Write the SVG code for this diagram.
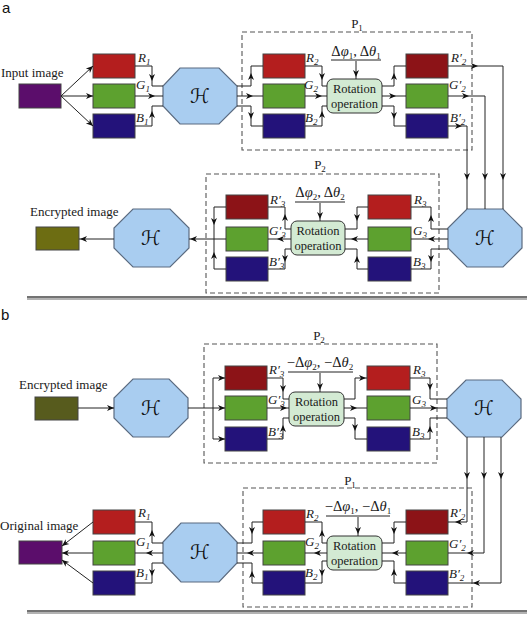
<svg xmlns="http://www.w3.org/2000/svg" xmlns:xlink="http://www.w3.org/1999/xlink" width="527" height="631" viewBox="0 0 527 631">
<style>
.lbl{font-family:"Liberation Serif",serif;font-size:13px;fill:#1a1a1a}
.it{font-style:italic}
.sub{font-size:9px}
.dl{font-family:"Liberation Serif",serif;font-size:14.5px;fill:#1a1a1a}
.rot{font-family:"Liberation Serif",serif;font-size:12.5px;fill:#1a1a1a}
.panel{font-family:"Liberation Sans",sans-serif;font-size:15px;fill:#111}
.h{font-family:"DejaVu Serif","DejaVu Sans",serif;font-style:italic;font-size:20px;fill:#111}
.oct{fill:#a9cdf0;stroke:#5b6b80;stroke-width:1.2}
.box{stroke:#444;stroke-width:1}
.r{fill:#b41e1e}.rd{fill:#8c1317}.g{fill:#5da12f}.b{fill:#23127a}.p{fill:#5b0d6b}.o1{fill:#6d6d12}.o2{fill:#575b1d}
.rb{fill:#d3ead3;stroke:#333;stroke-width:1}
.dash{fill:none;stroke:#555;stroke-width:1.1;stroke-dasharray:5,3}
.ln{fill:none;stroke:#222;stroke-width:1}
.sep1{stroke:#444;stroke-width:1.6}
.sep2{stroke:#999;stroke-width:1.4}
</style>
<defs>
<path id="ah" d="M0,0 L-7,-3 L-5,0 L-7,3 Z" fill="#111"/>
</defs>

<!-- ===== Panel a ===== -->
<text class="panel" x="2" y="13">a</text>

<g id="input-a">
<text class="lbl" x="1" y="77">Input image</text>
<rect class="box p" x="19" y="84" width="42" height="24"/>
</g>
<g id="R1-a"><rect class="box r" x="93" y="54" width="42" height="24"/><text class="lbl it" x="138" y="62">R<tspan class="sub" dy="3">1</tspan></text></g>
<g id="G1-a"><rect class="box g" x="93" y="84" width="42" height="24"/><text class="lbl it" x="136" y="89">G<tspan class="sub" dy="3">1</tspan></text></g>
<g id="B1-a"><rect class="box b" x="93" y="114" width="42" height="24"/><text class="lbl it" x="136" y="122">B<tspan class="sub" dy="3">1</tspan></text></g>
<g id="H1-a"><polygon class="oct" points="180,68 219,68 237,86 237,106 219,124 180,124 163,106 163,86"/><text class="h" x="200" y="103" text-anchor="middle">ℋ</text></g>

<g id="P1-a">
<rect class="dash" x="242" y="32" width="230" height="118"/>
<text class="lbl" x="357" y="28" text-anchor="middle">P<tspan class="sub" dy="3">1</tspan></text>
</g>
<g id="R2-a"><rect class="box r" x="263" y="54" width="42" height="24"/><text class="lbl it" x="306" y="62">R<tspan class="sub" dy="3">2</tspan></text></g>
<g id="G2-a"><rect class="box g" x="263" y="84" width="42" height="24"/><text class="lbl it" x="304" y="89">G<tspan class="sub" dy="3">2</tspan></text></g>
<g id="B2-a"><rect class="box b" x="263" y="114" width="42" height="24"/><text class="lbl it" x="305" y="122">B<tspan class="sub" dy="3">2</tspan></text></g>
<g id="rot1-a"><rect class="rb" x="327" y="79" width="55" height="34" rx="6"/><text class="rot" x="354.5" y="93" text-anchor="middle">Rotation</text><text class="rot" x="354.5" y="108" text-anchor="middle">operation</text></g>
<g id="param1-a"><text class="dl" x="356" y="56" text-anchor="middle">Δ<tspan class="it">φ</tspan><tspan class="sub" dy="3">1</tspan><tspan dy="-3">, Δ</tspan><tspan class="it">θ</tspan><tspan class="sub" dy="3">1</tspan></text><line class="ln" x1="331" y1="60" x2="381" y2="60"/></g>
<g id="R2p-a"><rect class="box rd" x="406" y="54" width="42" height="24"/><text class="lbl it" x="451" y="62">R′<tspan class="sub" dy="3">2</tspan></text></g>
<g id="G2p-a"><rect class="box g" x="406" y="84" width="42" height="24"/><text class="lbl it" x="449" y="89">G′<tspan class="sub" dy="3">2</tspan></text></g>
<g id="B2p-a"><rect class="box b" x="406" y="114" width="42" height="24"/><text class="lbl it" x="450" y="122">B′<tspan class="sub" dy="3">2</tspan></text></g>

<g id="H2-a"><polygon class="oct" points="467,209 503,209 522,228 522,248 503,267 467,267 448,248 448,228"/><text class="h" x="485" y="245" text-anchor="middle">ℋ</text></g>

<g id="P2-a">
<rect class="dash" x="206" y="174" width="233" height="119"/>
<text class="lbl" x="320" y="169" text-anchor="middle">P<tspan class="sub" dy="3">2</tspan></text>
</g>
<g id="R3-a"><rect class="box r" x="368" y="195" width="43" height="24"/><text class="lbl it" x="414" y="204">R<tspan class="sub" dy="3">3</tspan></text></g>
<g id="G3-a"><rect class="box g" x="368" y="227" width="43" height="24"/><text class="lbl it" x="413" y="235">G<tspan class="sub" dy="3">3</tspan></text></g>
<g id="B3-a"><rect class="box b" x="368" y="257" width="43" height="24"/><text class="lbl it" x="413" y="266">B<tspan class="sub" dy="3">3</tspan></text></g>
<g id="rot2-a"><rect class="rb" x="291" y="221" width="54" height="34" rx="6"/><text class="rot" x="318" y="235" text-anchor="middle">Rotation</text><text class="rot" x="318" y="250" text-anchor="middle">operation</text></g>
<g id="param2-a"><text class="dl" x="320" y="197" text-anchor="middle">Δ<tspan class="it">φ</tspan><tspan class="sub" dy="3">2</tspan><tspan dy="-3">, Δ</tspan><tspan class="it">θ</tspan><tspan class="sub" dy="3">2</tspan></text><line class="ln" x1="295" y1="202" x2="345" y2="202"/></g>
<g id="R3p-a"><rect class="box rd" x="226" y="195" width="42" height="24"/><text class="lbl it" x="270" y="204">R′<tspan class="sub" dy="3">3</tspan></text></g>
<g id="G3p-a"><rect class="box g" x="226" y="227" width="42" height="24"/><text class="lbl it" x="269" y="235">G′<tspan class="sub" dy="3">3</tspan></text></g>
<g id="B3p-a"><rect class="box b" x="226" y="257" width="42" height="24"/><text class="lbl it" x="269" y="266">B′<tspan class="sub" dy="3">3</tspan></text></g>
<g id="H3-a"><polygon class="oct" points="133,209 170,209 189,228 189,248 170,267 133,267 114,248 114,228"/><text class="h" x="151" y="245" text-anchor="middle">ℋ</text></g>
<g id="enc-a">
<text class="lbl" x="30" y="216">Encrypted image</text>
<rect class="box o1" x="36" y="227" width="43" height="23"/>
</g>

<g id="sep-a"><line class="sep1" x1="27" y1="297" x2="527" y2="297"/><line class="sep2" x1="27" y1="299" x2="527" y2="299"/></g>

<!-- ===== Panel b ===== -->
<text class="panel" x="1" y="320">b</text>

<g id="enc-b">
<text class="lbl" x="19" y="389">Encrypted image</text>
<rect class="box o2" x="35" y="397" width="43" height="23"/>
</g>
<g id="H4-b"><polygon class="oct" points="133,379 169,379 188,398 188,418 169,437 133,437 114,418 114,398"/><text class="h" x="151" y="415" text-anchor="middle">ℋ</text></g>
<g id="P2-b">
<rect class="dash" x="204" y="344" width="233" height="119"/>
<text class="lbl" x="319" y="340" text-anchor="middle">P<tspan class="sub" dy="3">2</tspan></text>
</g>
<g id="R3p-b"><rect class="box rd" x="225" y="366" width="42" height="24"/><text class="lbl it" x="269" y="374">R′<tspan class="sub" dy="3">3</tspan></text></g>
<g id="G3p-b"><rect class="box g" x="225" y="396" width="42" height="24"/><text class="lbl it" x="268" y="404">G′<tspan class="sub" dy="3">3</tspan></text></g>
<g id="B3p-b"><rect class="box b" x="225" y="427" width="42" height="24"/><text class="lbl it" x="268" y="436">B′<tspan class="sub" dy="3">3</tspan></text></g>
<g id="rot1-b"><rect class="rb" x="289" y="392" width="55" height="34" rx="6"/><text class="rot" x="316.5" y="406" text-anchor="middle">Rotation</text><text class="rot" x="316.5" y="421" text-anchor="middle">operation</text></g>
<g id="param2-b"><text class="dl" x="320" y="367" text-anchor="middle">−Δ<tspan class="it">φ</tspan><tspan class="sub" dy="3">2</tspan><tspan dy="-3">, −Δ</tspan><tspan class="it">θ</tspan><tspan class="sub" dy="3">2</tspan></text><line class="ln" x1="288" y1="372" x2="353" y2="372"/></g>
<g id="R3-b"><rect class="box r" x="367" y="366" width="43" height="24"/><text class="lbl it" x="413" y="374">R<tspan class="sub" dy="3">3</tspan></text></g>
<g id="G3-b"><rect class="box g" x="367" y="396" width="43" height="24"/><text class="lbl it" x="412" y="404">G<tspan class="sub" dy="3">3</tspan></text></g>
<g id="B3-b"><rect class="box b" x="367" y="427" width="43" height="24"/><text class="lbl it" x="412" y="436">B<tspan class="sub" dy="3">3</tspan></text></g>
<g id="H5-b"><polygon class="oct" points="466,380 502,380 521,399 521,418 502,437 466,437 447,418 447,399"/><text class="h" x="484" y="415" text-anchor="middle">ℋ</text></g>

<g id="P1-b">
<rect class="dash" x="243" y="488" width="229" height="119"/>
<text class="lbl" x="350" y="485" text-anchor="middle">P<tspan class="sub" dy="3">1</tspan></text>
</g>
<g id="R2p-b"><rect class="box rd" x="406" y="510" width="42" height="24"/><text class="lbl it" x="450" y="517">R′<tspan class="sub" dy="3">2</tspan></text></g>
<g id="G2p-b"><rect class="box g" x="406" y="541" width="42" height="24"/><text class="lbl it" x="449" y="548">G′<tspan class="sub" dy="3">2</tspan></text></g>
<g id="B2p-b"><rect class="box b" x="406" y="571" width="42" height="24"/><text class="lbl it" x="449" y="578">B′<tspan class="sub" dy="3">2</tspan></text></g>
<g id="rot2-b"><rect class="rb" x="327" y="536" width="55" height="34" rx="6"/><text class="rot" x="354.5" y="550" text-anchor="middle">Rotation</text><text class="rot" x="354.5" y="565" text-anchor="middle">operation</text></g>
<g id="param1-b"><text class="dl" x="358" y="511" text-anchor="middle">−Δ<tspan class="it">φ</tspan><tspan class="sub" dy="3">1</tspan><tspan dy="-3">, −Δ</tspan><tspan class="it">θ</tspan><tspan class="sub" dy="3">1</tspan></text><line class="ln" x1="326" y1="516" x2="390" y2="516"/></g>
<g id="R2-b"><rect class="box r" x="263" y="510" width="42" height="24"/><text class="lbl it" x="306" y="518">R<tspan class="sub" dy="3">2</tspan></text></g>
<g id="G2-b"><rect class="box g" x="263" y="541" width="42" height="24"/><text class="lbl it" x="305" y="546">G<tspan class="sub" dy="3">2</tspan></text></g>
<g id="B2-b"><rect class="box b" x="263" y="571" width="42" height="24"/><text class="lbl it" x="305" y="577">B<tspan class="sub" dy="3">2</tspan></text></g>
<g id="H6-b"><polygon class="oct" points="181,523 219,523 237,542 237,563 219,582 181,582 163,563 163,542"/><text class="h" x="200" y="559" text-anchor="middle">ℋ</text></g>
<g id="R1-b"><rect class="box r" x="93" y="510" width="42" height="24"/><text class="lbl it" x="138" y="517">R<tspan class="sub" dy="3">1</tspan></text></g>
<g id="G1-b"><rect class="box g" x="93" y="541" width="42" height="24"/><text class="lbl it" x="136" y="546">G<tspan class="sub" dy="3">1</tspan></text></g>
<g id="B1-b"><rect class="box b" x="93" y="571" width="42" height="24"/><text class="lbl it" x="136" y="577">B<tspan class="sub" dy="3">1</tspan></text></g>
<g id="orig-b">
<text class="lbl" x="0" y="530">Original image</text>
<rect class="box p" x="19" y="541" width="43" height="23"/>
</g>

<g id="sep-b"><line class="sep1" x1="27" y1="611" x2="527" y2="611"/><line class="sep2" x1="27" y1="613" x2="527" y2="613"/></g>

<!-- ===== Connectors ===== -->
<g id="connectors">
<path class="ln" d="M61,96 L93,66 M61,96 H93 M61,96 L93,126"/>
<use xlink:href="#ah" transform="translate(93,66) rotate(-43)"/>
<use xlink:href="#ah" transform="translate(93,96)"/>
<use xlink:href="#ah" transform="translate(93,126) rotate(43)"/>
<path class="ln" d="M135,66 H152 V86 H163 M135,96 H163 M135,126 H152 V106 H163"/>
<use xlink:href="#ah" transform="translate(152,81) rotate(90)"/>
<use xlink:href="#ah" transform="translate(155,96)"/>
<use xlink:href="#ah" transform="translate(152,111) rotate(-90)"/>
<path class="ln" d="M237,86 H251 V66 H263 M237,96 H263 M237,106 H251 V126 H263"/>
<use xlink:href="#ah" transform="translate(251,73) rotate(-90)"/>
<use xlink:href="#ah" transform="translate(253,96)"/>
<use xlink:href="#ah" transform="translate(251,119) rotate(90)"/>
<path class="ln" d="M305,66 H322 V86 H327 M305,96 H327 M305,126 H322 V106 H327"/>
<use xlink:href="#ah" transform="translate(322,80) rotate(90)"/>
<use xlink:href="#ah" transform="translate(322,96)"/>
<use xlink:href="#ah" transform="translate(322,111) rotate(-90)"/>
<path class="ln" d="M356,61 V79"/>
<use xlink:href="#ah" transform="translate(356,77) rotate(90)"/>
<path class="ln" d="M382,86 H394 V66 H406 M382,96 H406 M382,106 H394 V126 H406"/>
<use xlink:href="#ah" transform="translate(394,73) rotate(-90)"/>
<use xlink:href="#ah" transform="translate(396,96)"/>
<use xlink:href="#ah" transform="translate(394,119) rotate(90)"/>
<path class="ln" d="M448,66 H503 V209 M448,96 H485 V209 M448,126 H467 V209"/>
<use xlink:href="#ah" transform="translate(478,66)"/>
<use xlink:href="#ah" transform="translate(469,96)"/>
<use xlink:href="#ah" transform="translate(462,126)"/>
<use xlink:href="#ah" transform="translate(503,180) rotate(90)"/>
<use xlink:href="#ah" transform="translate(485,180) rotate(90)"/>
<use xlink:href="#ah" transform="translate(467,180) rotate(90)"/>
<path class="ln" d="M448,229 H431 V207 H411 M448,239 H411 M448,249 H431 V269 H411"/>
<use xlink:href="#ah" transform="translate(431,215) rotate(-90)"/>
<use xlink:href="#ah" transform="translate(428,239) rotate(180)"/>
<use xlink:href="#ah" transform="translate(431,262) rotate(90)"/>
<path class="ln" d="M368,207 H357 V229 H345 M368,239 H345 M368,269 H357 V249 H345"/>
<use xlink:href="#ah" transform="translate(357,221) rotate(90)"/>
<use xlink:href="#ah" transform="translate(351,239) rotate(180)"/>
<use xlink:href="#ah" transform="translate(357,256) rotate(-90)"/>
<path class="ln" d="M320,203 V221"/>
<use xlink:href="#ah" transform="translate(320,219) rotate(90)"/>
<path class="ln" d="M291,229 H285 V207 H268 M291,239 H268 M291,249 H285 V269 H268"/>
<use xlink:href="#ah" transform="translate(285,214) rotate(-90)"/>
<use xlink:href="#ah" transform="translate(277,239) rotate(180)"/>
<use xlink:href="#ah" transform="translate(285,262) rotate(90)"/>
<path class="ln" d="M226,207 H214 V239 M226,239 H189 M226,269 H214 V239"/>
<use xlink:href="#ah" transform="translate(214,225) rotate(90)"/>
<use xlink:href="#ah" transform="translate(214,252) rotate(-90)"/>
<use xlink:href="#ah" transform="translate(190,239) rotate(180)"/>
<path class="ln" d="M114,239 H79"/>
<use xlink:href="#ah" transform="translate(80,239) rotate(180)"/>

<path class="ln" d="M78,408 H114"/>
<use xlink:href="#ah" transform="translate(114,408)"/>
<path class="ln" d="M188,408 H225 M213,378 V439 M213,378 H225 M213,439 H225"/>
<use xlink:href="#ah" transform="translate(225,378)"/>
<use xlink:href="#ah" transform="translate(225,408)"/>
<use xlink:href="#ah" transform="translate(225,439)"/>
<path class="ln" d="M267,378 H283 V399 H289 M267,408 H289 M267,439 H283 V418 H289"/>
<use xlink:href="#ah" transform="translate(283,392) rotate(90)"/>
<use xlink:href="#ah" transform="translate(287,408)"/>
<use xlink:href="#ah" transform="translate(283,425) rotate(-90)"/>
<path class="ln" d="M320,373 V392"/>
<use xlink:href="#ah" transform="translate(320,390) rotate(90)"/>
<path class="ln" d="M344,399 H355 V378 H367 M344,408 H367 M344,418 H355 V439 H367"/>
<use xlink:href="#ah" transform="translate(366,378)"/>
<use xlink:href="#ah" transform="translate(357,408)"/>
<use xlink:href="#ah" transform="translate(355,431) rotate(90)"/>
<path class="ln" d="M410,378 H430 V399 H447 M410,408 H447 M410,439 H430 V418 H447"/>
<use xlink:href="#ah" transform="translate(430,390) rotate(90)"/>
<use xlink:href="#ah" transform="translate(437,408)"/>
<use xlink:href="#ah" transform="translate(430,426) rotate(-90)"/>
<path class="ln" d="M467,437 V522 H448 M484,437 V553 H448 M501,437 V583 H448"/>
<use xlink:href="#ah" transform="translate(467,479) rotate(90)"/>
<use xlink:href="#ah" transform="translate(484,479) rotate(90)"/>
<use xlink:href="#ah" transform="translate(501,479) rotate(90)"/>
<use xlink:href="#ah" transform="translate(455,522) rotate(180)"/>
<use xlink:href="#ah" transform="translate(467,553) rotate(180)"/>
<use xlink:href="#ah" transform="translate(473,583) rotate(180)"/>
<path class="ln" d="M406,522 H394 V543 H382 M406,553 H382 M406,583 H394 V561 H382"/>
<use xlink:href="#ah" transform="translate(394,534) rotate(90)"/>
<use xlink:href="#ah" transform="translate(392,553) rotate(180)"/>
<use xlink:href="#ah" transform="translate(394,569) rotate(-90)"/>
<path class="ln" d="M358,517 V536"/>
<use xlink:href="#ah" transform="translate(358,534) rotate(90)"/>
<path class="ln" d="M327,543 H322 V522 H305 M327,553 H305 M327,561 H322 V583 H305"/>
<use xlink:href="#ah" transform="translate(322,530) rotate(-90)"/>
<use xlink:href="#ah" transform="translate(314,553) rotate(180)"/>
<use xlink:href="#ah" transform="translate(322,576) rotate(90)"/>
<path class="ln" d="M263,522 H252 V543 H237 M263,553 H237 M263,583 H252 V563 H237"/>
<use xlink:href="#ah" transform="translate(252,534) rotate(90)"/>
<use xlink:href="#ah" transform="translate(247,553) rotate(180)"/>
<use xlink:href="#ah" transform="translate(252,571) rotate(-90)"/>
<path class="ln" d="M163,543 H152 V522 H135 M163,553 H135 M163,563 H152 V583 H135"/>
<use xlink:href="#ah" transform="translate(152,530) rotate(-90)"/>
<use xlink:href="#ah" transform="translate(146,553) rotate(180)"/>
<use xlink:href="#ah" transform="translate(152,576) rotate(90)"/>
<path class="ln" d="M93,522 L62,546 M93,553 H62 M93,583 L62,560"/>
<use xlink:href="#ah" transform="translate(62,546) rotate(142)"/>
<use xlink:href="#ah" transform="translate(62,553) rotate(180)"/>
<use xlink:href="#ah" transform="translate(62,560) rotate(-142)"/>
</g>
</svg>
